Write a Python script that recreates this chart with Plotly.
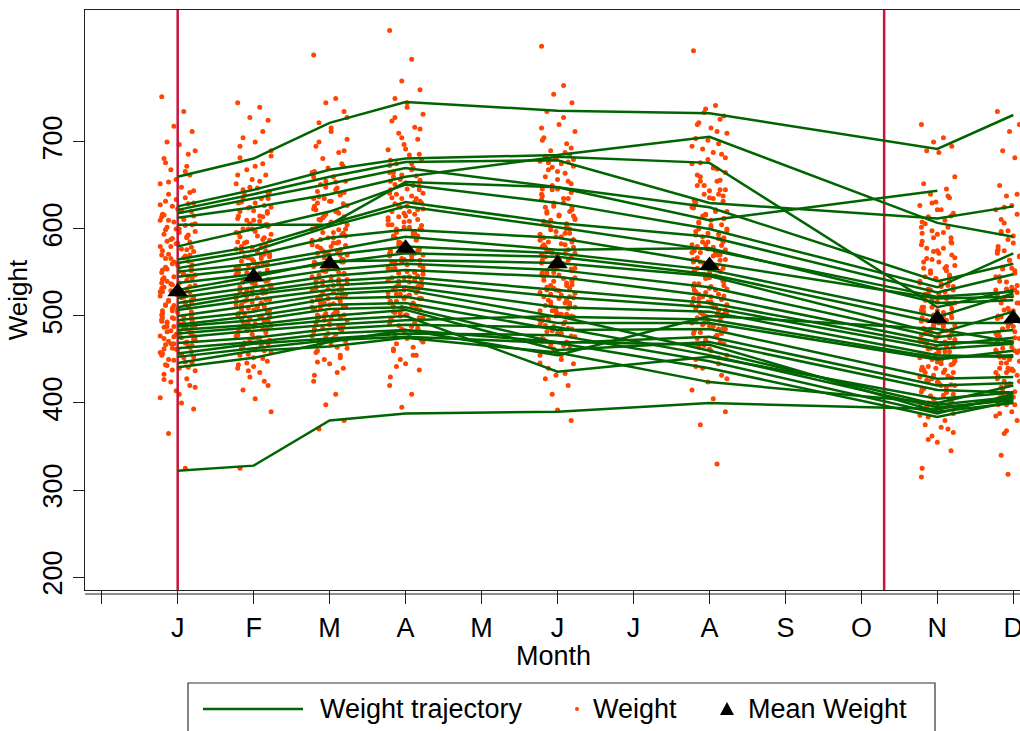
import plotly.graph_objects as go

# ---------------- data ----------------
MONTH_TICKS = [0, 1, 2, 3, 4, 5, 6, 7, 8, 9, 10, 11, 12]
MONTH_LABELS = ["", "J", "F", "M", "A", "M", "J", "J", "A", "S", "O", "N", "D"]
Y_TICKS = [200, 300, 400, 500, 600, 700]

VISIT_MONTHS = [1, 2, 3, 4, 6, 8, 11, 12]
MEAN_WEIGHT = [528, 545, 560, 578, 560, 558, 497, 497]
XLINES = [1, 10.3]

# individual trajectories: values at VISIT_MONTHS (None = missing)
TRAJ = [
    [660, 681, 722, 746, 736, 733, 692, 731],
    [626, 645, 668, 681, 685, 706, 607, 591],
    [622, 640, 660, 677, 679, 630, 612, 626],
    [618, 635, 652, 670, 648, 610, 644, None],
    [613, 625, 640, 660, 683, 676, 510, 530],
    [605, 605, 605, 654, 648, 625, 540, 560],
    [580, 600, 620, 651, 630, 600, 533, 572],
    [565, 580, 606, 631, 607, 591, 527, 548],
    [561, 575, 603, 626, 602, 576, 522, 528],
    [555, 570, 590, 599, 590, 561, 520, 522],
    [551, 560, 575, 591, 576, 578, 515, 518],
    [545, 555, 570, 580, 572, 553, 499, 526],
    [538, 548, 561, 572, 568, 548, 492, 492],
    [530, 545, 563, 564, 561, 546, 480, 505],
    [526, 540, 553, 560, 553, 533, 476, 484],
    [521, 533, 546, 553, 545, 523, 470, 469],
    [515, 528, 540, 545, 530, 515, 466, 475],
    [510, 525, 535, 540, 522, 510, 462, 468],
    [507, 519, 530, 534, 510, 505, 455, 453],
    [500, 512, 525, 530, 499, 496, 452, 455],
    [495, 505, 520, 522, 492, 492, 450, 460],
    [490, 500, 513, 515, 484, 485, 428, 430],
    [488, 495, 508, 510, 469, 476, 420, 423],
    [484, 490, 500, 507, 461, 470, 415, 412],
    [480, 487, 495, 500, 436, 453, 405, 412],
    [475, 483, 490, 495, 500, 460, 398, 407],
    [469, 475, 485, 490, 487, 455, 395, 403],
    [463, 470, 480, 484, 470, 467, 390, 400],
    [457, 468, 474, 480, 478, 448, 388, 410],
    [453, 463, 472, 476, 469, 440, 384, 402],
    [446, 460, 465, 475, 458, 424, 400, 420],
    [441, 452, 470, 484, 455, 500, 485, 470],
    [322, 328, 380, 388, 390, 400, 393, 405],
]

# all observed weights per visit
W_JAN = [752, 735, 718, 712, 700, 697, 690, 681, 672, 668, 662, 657, 652, 648, 644, 640, 636, 632, 629, 626, 623, 620, 617, 614, 611, 608, 605, 602, 600, 597, 594, 591, 588, 585, 583, 580, 577, 574, 571, 569, 566, 563, 560, 558, 555, 553, 550, 548, 545, 543, 540, 538, 535, 533, 531, 529, 527, 525, 523, 521, 519, 517, 515, 513, 511, 509, 507, 505, 503, 501, 499, 497, 495, 493, 491, 489, 487, 485, 483, 481, 479, 477, 475, 473, 471, 469, 467, 465, 463, 461, 459, 457, 455, 452, 449, 446, 443, 440, 437, 433, 428, 424, 420, 414, 406, 400, 393, 365, 325, 556, 546, 536, 526, 516, 506, 496, 486, 476, 466, 586, 596, 606, 616, 576, 566,
         642, 634, 628, 621, 615, 610, 604, 599, 593, 589, 584, 579, 575, 570, 567, 562, 559, 554, 551, 547, 544, 541, 537, 534, 530, 528, 524, 522, 518, 516, 512, 510, 506, 504, 500, 498, 494, 492, 488, 486, 482, 480, 476, 474, 470, 468, 464, 462, 458, 456, 453, 450, 447, 444, 441, 438, 560, 552, 542, 532, 522, 512, 502, 492, 482, 472, 462, 590, 580, 570, 600, 610, 620, 630, 654, 666, 676, 686, 498, 508, 518, 528, 538, 548, 468, 478, 488, 410, 418, 427]
W_FEB = [745, 740, 728, 725, 705, 700, 690, 682, 675, 668, 662, 657, 652, 647, 643, 639, 635, 631, 627, 624, 621, 618, 615, 612, 609, 606, 603, 600, 597, 594, 591, 588, 585, 582, 579, 577, 574, 571, 568, 566, 563, 560, 558, 555, 553, 550, 548, 546, 543, 541, 539, 537, 535, 533, 531, 529, 527, 525, 523, 521, 519, 517, 515, 513, 511, 509, 507, 505, 503, 501, 499, 497, 495, 493, 491, 489, 487, 485, 483, 481, 479, 477, 475, 472, 469, 466, 463, 460, 456, 452, 448, 444, 440, 435, 430, 420, 415, 405, 390, 325, 560, 550, 540, 530, 520, 510, 500, 490, 570, 580, 590, 600, 610, 620, 630,
         662, 655, 648, 641, 636, 630, 625, 620, 614, 610, 605, 600, 596, 592, 587, 584, 579, 575, 571, 567, 563, 560, 556, 552, 549, 546, 542, 539, 536, 532, 529, 526, 523, 519, 516, 513, 510, 507, 503, 500, 497, 494, 491, 488, 485, 482, 478, 475, 472, 468, 465, 461, 458, 455, 451, 446, 575, 565, 555, 545, 535, 525, 515, 505, 495, 485, 475, 605, 595, 585, 615, 625, 635, 645, 672, 684, 695, 712, 518, 528, 538, 548, 558, 568, 488, 498, 508, 425, 437, 442]
W_MAR = [800, 750, 745, 735, 722, 712, 703, 695, 688, 681, 675, 670, 665, 660, 655, 651, 647, 643, 639, 635, 632, 629, 626, 623, 620, 617, 614, 611, 608, 605, 602, 599, 596, 593, 590, 587, 584, 581, 578, 575, 572, 570, 567, 564, 562, 559, 557, 554, 552, 549, 547, 545, 542, 540, 538, 535, 533, 531, 529, 527, 525, 523, 521, 519, 517, 515, 513, 511, 509, 507, 505, 503, 501, 499, 497, 495, 492, 489, 486, 483, 480, 477, 474, 471, 468, 464, 460, 455, 450, 445, 440, 432, 425, 410, 398, 380, 370, 580, 570, 560, 550, 540, 530, 520, 510, 590, 600, 610, 620, 630, 640, 500, 490,
         672, 666, 660, 654, 648, 642, 637, 632, 627, 622, 618, 613, 609, 604, 600, 596, 592, 588, 584, 580, 576, 573, 569, 565, 562, 558, 555, 551, 548, 544, 541, 537, 534, 530, 527, 524, 520, 517, 514, 511, 508, 504, 501, 498, 495, 491, 488, 485, 482, 479, 476, 473, 470, 467, 463, 458, 585, 575, 565, 555, 545, 535, 525, 515, 505, 495, 485, 615, 605, 595, 625, 635, 645, 655, 690, 700, 716, 728, 532, 542, 552, 562, 572, 582, 502, 512, 522, 435, 447, 452]
W_APR = [828, 795, 770, 760, 750, 740, 732, 724, 717, 710, 703, 697, 691, 685, 680, 675, 670, 665, 661, 657, 653, 649, 645, 641, 638, 635, 632, 629, 626, 623, 620, 617, 614, 611, 608, 605, 602, 599, 596, 593, 590, 587, 584, 581, 578, 575, 572, 569, 566, 564, 561, 559, 556, 554, 551, 549, 546, 544, 541, 539, 537, 534, 532, 530, 527, 525, 522, 520, 517, 515, 512, 510, 507, 504, 501, 498, 495, 492, 489, 486, 483, 480, 476, 472, 468, 464, 460, 455, 450, 445, 438, 430, 420, 410, 395, 600, 590, 580, 570, 560, 550, 540, 530, 520, 610, 620, 630, 640, 650, 660, 510, 500,
         692, 686, 679, 673, 668, 662, 656, 651, 646, 641, 636, 631, 627, 622, 618, 613, 609, 604, 600, 596, 592, 588, 584, 580, 576, 573, 569, 565, 562, 558, 555, 551, 548, 544, 541, 537, 534, 530, 527, 524, 520, 517, 514, 511, 508, 504, 501, 498, 495, 491, 488, 485, 482, 478, 474, 470, 605, 595, 585, 575, 565, 555, 545, 535, 525, 515, 505, 635, 625, 615, 645, 655, 665, 675, 705, 715, 728, 745, 552, 562, 572, 582, 592, 602, 522, 532, 542, 442, 455, 462]
W_JUN = [810, 765, 755, 745, 735, 720, 712, 705, 698, 690, 685, 681, 678, 675, 672, 668, 664, 660, 655, 650, 646, 642, 638, 634, 630, 626, 622, 618, 615, 612, 609, 606, 603, 600, 597, 594, 591, 588, 585, 582, 579, 576, 573, 570, 567, 564, 561, 558, 555, 552, 549, 547, 544, 541, 538, 535, 532, 530, 527, 524, 521, 518, 515, 512, 509, 506, 503, 500, 497, 494, 491, 488, 485, 482, 479, 476, 473, 470, 467, 463, 459, 455, 450, 445, 440, 434, 428, 420, 410, 392, 380, 580, 570, 560, 550, 540, 530, 520, 510, 590, 600, 610, 620, 500, 490, 480, 680, 676,
         688, 683, 677, 671, 666, 652, 646, 640, 635, 630, 625, 620, 616, 611, 607, 603, 599, 595, 591, 587, 583, 579, 575, 572, 568, 564, 561, 557, 554, 550, 547, 543, 540, 536, 533, 529, 526, 522, 519, 516, 512, 509, 506, 502, 499, 496, 493, 489, 486, 483, 480, 477, 474, 471, 466, 462, 585, 575, 565, 555, 545, 535, 525, 515, 505, 495, 485, 615, 605, 595, 625, 635, 645, 657, 693, 702, 716, 728, 532, 542, 552, 562, 572, 582, 502, 512, 522, 432, 446, 455]
W_AUG = [805, 742, 738, 730, 722, 716, 710, 704, 698, 692, 686, 680, 675, 670, 665, 660, 655, 650, 645, 640, 636, 632, 628, 624, 620, 616, 612, 608, 604, 600, 597, 594, 591, 588, 585, 582, 579, 576, 573, 570, 567, 564, 561, 558, 555, 552, 549, 546, 543, 540, 537, 534, 531, 528, 525, 522, 519, 516, 513, 510, 507, 504, 501, 498, 495, 492, 489, 486, 483, 480, 476, 472, 468, 464, 460, 455, 450, 445, 440, 432, 424, 415, 405, 390, 375, 330, 580, 570, 560, 550, 540, 530, 520, 510, 500, 590, 600, 610, 620, 630, 640, 490, 480,
         702, 695, 688, 682, 676, 669, 662, 656, 650, 644, 638, 633, 627, 622, 617, 612, 607, 602, 598, 593, 589, 585, 581, 577, 573, 569, 565, 562, 558, 555, 551, 548, 544, 541, 537, 534, 530, 527, 523, 520, 516, 513, 509, 506, 502, 499, 495, 492, 488, 485, 481, 478, 474, 470, 466, 462, 585, 575, 565, 555, 545, 535, 525, 515, 505, 495, 485, 615, 605, 595, 625, 635, 645, 655, 712, 720, 726, 734, 532, 542, 552, 562, 572, 582, 502, 512, 522, 428, 442, 452]
W_NOV = [720, 705, 700, 695, 690, 688, 660, 652, 646, 640, 636, 631, 627, 622, 618, 614, 610, 606, 602, 598, 594, 590, 586, 582, 578, 574, 570, 566, 562, 558, 555, 552, 549, 546, 543, 540, 537, 534, 531, 528, 525, 522, 519, 516, 513, 510, 507, 504, 501, 498, 495, 492, 489, 486, 483, 480, 477, 474, 471, 468, 465, 462, 459, 456, 453, 450, 447, 444, 441, 438, 435, 432, 429, 426, 423, 420, 416, 412, 408, 404, 400, 396, 392, 388, 384, 380, 375, 370, 362, 355, 345, 325, 315, 500, 490, 480, 470, 460, 450, 510, 520, 530, 540, 440, 430, 420, 410, 400, 470, 480,
         638, 630, 622, 615, 608, 602, 596, 590, 584, 578, 572, 567, 562, 557, 552, 547, 543, 538, 534, 530, 526, 522, 518, 514, 510, 506, 502, 498, 494, 491, 487, 484, 480, 477, 473, 470, 466, 463, 459, 456, 452, 449, 445, 442, 438, 435, 431, 428, 424, 421, 417, 413, 409, 405, 401, 396, 525, 515, 505, 495, 485, 475, 465, 455, 445, 435, 425, 555, 545, 535, 565, 575, 585, 595, 478, 488, 498, 508, 468, 458, 448, 438, 418, 408, 398, 390, 386, 372, 366, 358]
W_DEC = [735, 720, 712, 700, 690, 682, 660, 650, 645, 638, 632, 627, 622, 617, 612, 607, 602, 597, 592, 588, 584, 580, 576, 572, 568, 564, 560, 556, 552, 548, 545, 542, 539, 536, 533, 530, 527, 524, 521, 518, 515, 512, 509, 506, 503, 500, 497, 494, 491, 488, 485, 482, 479, 476, 473, 470, 467, 464, 461, 458, 455, 452, 449, 446, 443, 440, 437, 434, 431, 428, 425, 422, 419, 416, 413, 410, 406, 402, 398, 394, 390, 385, 380, 372, 365, 350, 340, 320, 318, 500, 490, 480, 470, 460, 450, 510, 520, 530, 540, 440, 430, 420, 410, 470, 480,
         640, 633, 625, 618, 611, 605, 598, 592, 586, 580, 575, 569, 564, 559, 554, 549, 545, 540, 536, 531, 527, 523, 519, 515, 511, 507, 503, 499, 495, 492, 488, 484, 481, 477, 474, 470, 467, 463, 460, 456, 453, 449, 446, 442, 439, 435, 432, 428, 425, 421, 418, 414, 411, 407, 403, 398, 525, 515, 505, 495, 485, 475, 465, 455, 445, 435, 425, 555, 545, 535, 565, 575, 585, 595, 478, 488, 498, 508, 468, 458, 448, 438, 418, 408, 398, 392, 388, 376, 368, 360]
WEIGHTS = [W_JAN, W_FEB, W_MAR, W_APR, W_JUN, W_AUG, W_NOV, W_DEC]

# ---------------- style ----------------
JITTER = [-0.21, 0.08, -0.05, 0.19, -0.14, 0.02, 0.23, -0.18, 0.12, -0.09, 0.16,
          -0.02, -0.23, 0.05, 0.21, -0.12, 0.10, -0.16, 0.14, -0.07, 0.00, 0.18, -0.20]
FONT = "Liberation Sans, Arial, sans-serif"
GREEN = "#006400"
ORANGE = "#FF4500"
RED = "#C8143C"
X_RANGE = [-0.22, 12.088]
Y_RANGE = [185.06, 851.7]

fig = go.Figure()

# jittered weights
dx, dy = [], []
for m, vals in zip(VISIT_MONTHS, WEIGHTS):
    for i, v in enumerate(vals):
        dx.append(m + JITTER[i % len(JITTER)])
        dy.append(v)
fig.add_trace(go.Scatter(x=dx, y=dy, mode="markers",
                         marker=dict(color=ORANGE, size=5, line=dict(width=0)),
                         name="Weight", hoverinfo="skip"))

# reference lines
for xl in XLINES:
    fig.add_trace(go.Scatter(x=[xl, xl], y=Y_RANGE, mode="lines",
                             line=dict(color=RED, width=2.5), hoverinfo="skip",
                             showlegend=False))

# trajectories
tx, ty = [], []
for row in TRAJ:
    for m, v in zip(VISIT_MONTHS, row):
        if v is not None:
            tx.append(m)
            ty.append(v)
    tx.append(None)
    ty.append(None)
fig.add_trace(go.Scatter(x=tx, y=ty, mode="lines", connectgaps=False,
                         line=dict(color=GREEN, width=2.5),
                         name="Weight trajectory", hoverinfo="skip"))

# means
fig.add_trace(go.Scatter(x=VISIT_MONTHS, y=MEAN_WEIGHT, mode="markers",
                         marker=dict(symbol="triangle-up", color="black", size=18,
                                     line=dict(width=0)),
                         name="Mean Weight", cliponaxis=False))

# ---------------- layout ----------------
L, R, T, B = 85, 0, 10, 141
W, H = 1020, 731
pw, ph = W - L - R, H - T - B


def px_x(p):
    return (p - L) / pw


def px_y(p):
    return (H - B - p) / ph


shapes = [
    dict(type="line", xref="paper", yref="paper", x0=0, x1=1,
         y0=px_y(594), y1=px_y(594), line=dict(color="#222", width=1.2)),
    dict(type="rect", xref="paper", yref="paper", x0=px_x(188), x1=px_x(935),
         y0=px_y(735), y1=px_y(683), line=dict(color="#333", width=1.2),
         fillcolor="white"),
    dict(type="line", xref="paper", yref="paper", x0=px_x(203), x1=px_x(303),
         y0=px_y(709), y1=px_y(709), line=dict(color=GREEN, width=2.5)),
    dict(type="circle", xref="paper", yref="paper", xsizemode="pixel",
         ysizemode="pixel", xanchor=px_x(577), yanchor=px_y(709),
         x0=-2, x1=2, y0=-2, y1=2, fillcolor=ORANGE, line=dict(width=0)),
    dict(type="path", xref="paper", yref="paper", xsizemode="pixel",
         ysizemode="pixel", xanchor=px_x(727), yanchor=px_y(709),
         path="M -7,-6 L 7,-6 L 0,7 Z", fillcolor="black", line=dict(width=0)),
]

annotations = [
    dict(text="Weight trajectory", xref="paper", yref="paper", x=px_x(318),
         y=px_y(709), xanchor="left", yanchor="middle", showarrow=False,
         font=dict(family=FONT, size=27, color="black")),
    dict(text="Weight", xref="paper", yref="paper", x=px_x(591),
         y=px_y(709), xanchor="left", yanchor="middle", showarrow=False,
         font=dict(family=FONT, size=27, color="black")),
    dict(text="Mean Weight", xref="paper", yref="paper", x=px_x(746),
         y=px_y(709), xanchor="left", yanchor="middle", showarrow=False,
         font=dict(family=FONT, size=27, color="black")),
    dict(text="Month", xref="paper", yref="paper", x=px_x(553),
         y=px_y(656), xanchor="center", yanchor="middle", showarrow=False,
         font=dict(family=FONT, size=27, color="black")),
]

fig.update_layout(
    width=W, height=H,
    margin=dict(l=L, r=R, t=T, b=B, pad=0, autoexpand=False),
    paper_bgcolor="white", plot_bgcolor="white",
    showlegend=False,
    font=dict(family=FONT, size=26, color="black"),
    shapes=shapes, annotations=annotations,
    xaxis=dict(range=X_RANGE, tickmode="array", tickvals=MONTH_TICKS,
               ticktext=MONTH_LABELS, ticks="outside", ticklen=13, tickwidth=1.2,
               tickcolor="#222", showline=True, linecolor="#222", linewidth=1.2,
               mirror=True, showgrid=False, zeroline=False, automargin=False,
               ticklabeloverflow="allow",
               tickfont=dict(family=FONT, size=27)),
    yaxis=dict(range=Y_RANGE, tickmode="array", tickvals=Y_TICKS, tickangle=-90,
               ticks="outside", ticklen=11, tickwidth=1.2, tickcolor="#222",
               showline=True, linecolor="#222", linewidth=1.2, showgrid=False,
               zeroline=False, automargin=False, tickfont=dict(family=FONT, size=27),
               title=dict(text="Weight", font=dict(family=FONT, size=26), standoff=2)),
)

fig.write_html("out.html")
